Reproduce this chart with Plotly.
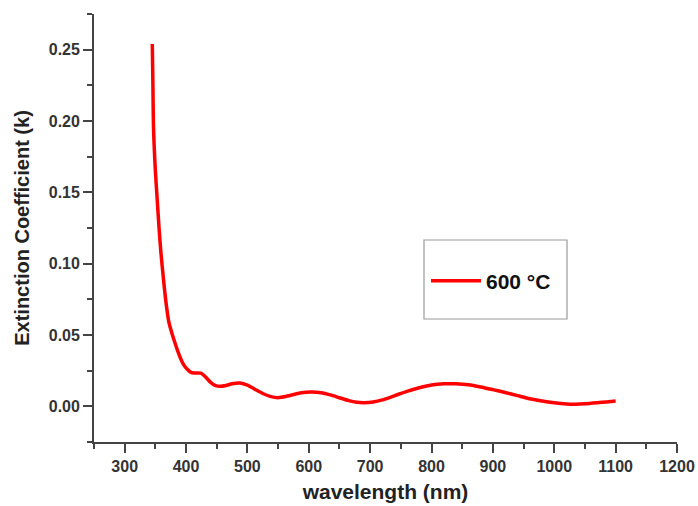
import plotly.graph_objects as go

wavelength = [345, 346, 347, 350, 353, 356, 359, 363, 367, 372, 380, 388, 395, 402, 408,
              415, 424, 432, 440, 448, 456, 465, 475, 488, 500, 512, 525, 537, 550, 565,
              580, 595, 605, 620, 635, 650, 665, 678, 690, 705, 720, 740, 760, 780, 800,
              820, 840, 860, 880, 900, 920, 940, 960, 980, 1000, 1020, 1035, 1050, 1070,
              1085, 1100]
k_600 = [0.254, 0.225, 0.195, 0.165, 0.145, 0.125, 0.108, 0.090, 0.074, 0.059, 0.047,
         0.037, 0.030, 0.026, 0.0238, 0.0234, 0.0232, 0.0205, 0.0168, 0.0145, 0.0140,
         0.0146, 0.0158, 0.0163, 0.0148, 0.012, 0.009, 0.007, 0.0061, 0.0072, 0.0088,
         0.0098, 0.0100, 0.0095, 0.0080, 0.0060, 0.0040, 0.0028, 0.0025, 0.0030, 0.0045,
         0.0075, 0.0105, 0.013, 0.0150, 0.0158, 0.0158, 0.0151, 0.0136, 0.0117, 0.0097,
         0.0075, 0.0053, 0.0037, 0.0025, 0.0017, 0.0015, 0.0018, 0.0025, 0.0031, 0.0037]
series_name = "600 °C"
x_ticks = [300, 400, 500, 600, 700, 800, 900, 1000, 1100, 1200]
y_ticks = [0.00, 0.05, 0.10, 0.15, 0.20, 0.25]

font_family = "Liberation Sans, Arial, sans-serif"
axis_color = "#444444"

fig = go.Figure()
fig.add_trace(go.Scatter(
    x=wavelength, y=k_600, mode="lines", name=series_name,
    line=dict(color="#ff0000", width=3.5, shape="spline", smoothing=0.7),
))

axis_common = dict(
    showgrid=False, zeroline=False, showline=True, linecolor=axis_color, linewidth=1.8,
    ticks="outside", ticklen=9, tickwidth=1.8, tickcolor=axis_color,
    tickfont=dict(family=font_family, size=16, color="#333333", weight="bold"),
    mirror=False,
)

fig.update_xaxes(
    range=[250, 1200], tickvals=x_ticks, ticktext=[str(v) for v in x_ticks],
    minor=dict(ticks="outside", ticklen=5, tickwidth=1.8, tickcolor=axis_color, dtick=50, tick0=250),
    title=dict(text="wavelength (nm)", font=dict(family=font_family, size=21, color="#222222", weight="bold"), standoff=10),
    **axis_common,
)
fig.update_yaxes(
    range=[-0.025, 0.275], tickvals=y_ticks, ticktext=["%.2f" % v for v in y_ticks],
    minor=dict(ticks="outside", ticklen=5, tickwidth=1.8, tickcolor=axis_color, dtick=0.025, tick0=-0.025),
    title=dict(text="Extinction Coefficient (k)", font=dict(family=font_family, size=20, color="#222222", weight="bold"), standoff=14),
    **axis_common,
)

fig.add_shape(type="rect", xref="paper", yref="paper",
              x0=(424 - 94) / 583, x1=(567 - 94) / 583,
              y0=(442 - 319) / 428, y1=(442 - 240) / 428,
              line=dict(color="#9a9a9a", width=1.2), fillcolor="rgba(0,0,0,0)")

fig.update_layout(
    width=698, height=506,
    margin=dict(l=94, r=21, t=14, b=64, autoexpand=False),
    plot_bgcolor="white", paper_bgcolor="white",
    showlegend=True,
    legend=dict(x=(426 - 94) / 583, y=(442 - 281) / 428, xanchor="left", yanchor="middle",
                bgcolor="rgba(0,0,0,0)", borderwidth=0, itemwidth=50,
                font=dict(family=font_family, size=21, color="#111111", weight="bold")),
)

fig.write_html("out.html")
